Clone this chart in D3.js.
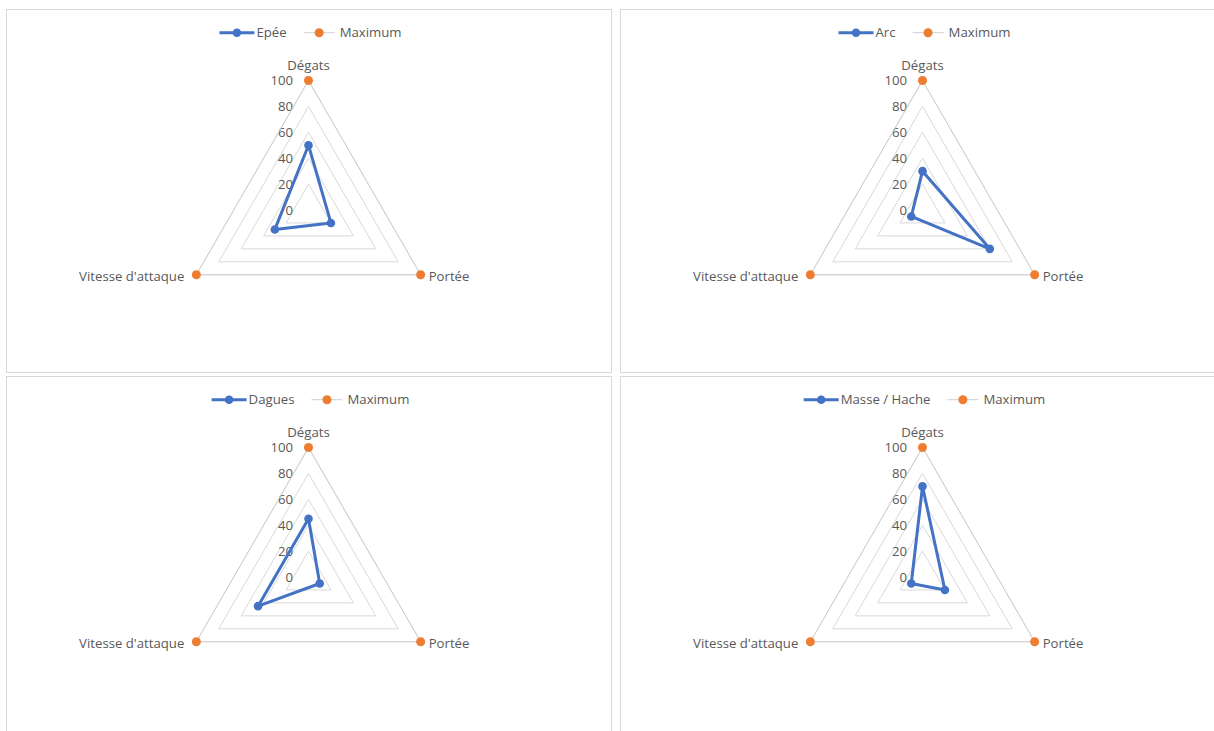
<!DOCTYPE html>
<html>
<head>
<meta charset="utf-8">
<script src="https://cdn.jsdelivr.net/npm/d3@7"></script>
<style>
  html, body { margin: 0; padding: 0; background: #ffffff; overflow: hidden; }
  svg { display: block; }
  text { font-family: "Open Sans", "Liberation Sans", sans-serif; font-size: 13.2px; fill: #595959; }
</style>
</head>
<body>
<svg id="chart" width="1214" height="731"></svg>
<script>
// Weapon stats on three axes, each shown against the maximum (100).
const categories = ["Dégats", "Portée", "Vitesse d'attaque"];
const weaponNames = ["Epée", "Arc", "Dagues", "Masse / Hache"];
const epee = [50, 20, 30];
const arc = [30, 60, 10];
const dagues = [45, 10, 45];
const masseHache = [70, 20, 10];
const maximum = [100, 100, 100];
const tickValues = [0, 20, 40, 60, 80, 100];
const maximumLabel = "Maximum";

const weaponValues = [epee, arc, dagues, masseHache];

const svg = d3.select("#chart");
const BLUE = "#4472C4", ORANGE = "#ED7D31", GRID = "#d9d9d9";

// Panel frames (2 x 2)
const panelW = 605, panelH = 363;
const panelOrigins = [[6.5, 9.5], [620.5, 9.5], [6.5, 376.5], [620.5, 376.5]];

const r = d3.scaleLinear().domain([0, 100]).range([0, 129.5]);
const angle = d3.scalePoint().domain(categories).range([0, 2 * Math.PI * 2 / 3]);

const radial = d3.lineRadial()
  .angle((d, i) => angle(categories[i]))
  .radius(d => r(d))
  .curve(d3.curveLinearClosed);

function pos(v, i) {
  const a = angle(categories[i]);
  return [Math.sin(a) * r(v), -Math.cos(a) * r(v)];
}

weaponNames.forEach((name, k) => {
  const [px, py] = panelOrigins[k];
  const g = svg.append("g").attr("transform", `translate(${px},${py})`);

  g.append("rect")
    .attr("width", panelW).attr("height", panelH)
    .attr("fill", "#fff").attr("stroke", GRID).attr("stroke-width", 1);

  const cx = 302, cy = 200.5;
  const plot = g.append("g").attr("transform", `translate(${cx},${cy})`);

  // Rings
  tickValues.filter(t => t > 0).forEach(t => {
    plot.append("path")
      .attr("d", radial(categories.map(() => t)))
      .attr("fill", "none").attr("stroke", GRID).attr("stroke-width", 1);
  });

  // Value axis labels
  tickValues.forEach(t => {
    plot.append("text")
      .attr("x", -15.5).attr("y", -r(t))
      .attr("dy", "0.35em")
      .attr("text-anchor", "end")
      .text(t);
  });

  // Category labels
  categories.forEach((c, i) => {
    const [x, y] = pos(100, i);
    const t = plot.append("text").text(c).attr("dy", "0.35em");
    if (i === 0) t.attr("x", x).attr("y", y - 15.5).attr("text-anchor", "middle");
    else if (i === 1) t.attr("x", x + 8).attr("y", y + 1.5).attr("text-anchor", "start");
    else t.attr("x", x - 12).attr("y", y + 1.5).attr("text-anchor", "end");
  });

  // Maximum series
  plot.append("path")
    .attr("d", radial(maximum))
    .attr("fill", "none").attr("stroke", "#d0d0d0").attr("stroke-width", 1);
  maximum.forEach((v, i) => {
    const [x, y] = pos(v, i);
    plot.append("circle").attr("cx", x).attr("cy", y).attr("r", 4.5).attr("fill", ORANGE);
  });

  // Weapon series
  const vals = weaponValues[k];
  plot.append("path")
    .attr("d", radial(vals))
    .attr("fill", "none").attr("stroke", BLUE).attr("stroke-width", 3)
    .attr("stroke-linejoin", "round");
  vals.forEach((v, i) => {
    const [x, y] = pos(v, i);
    plot.append("circle").attr("cx", x).attr("cy", y).attr("r", 4.3).attr("fill", BLUE);
  });

  // Legend
  const leg = g.append("g");
  const ly = 23.2;
  const e1 = leg.append("g");
  e1.append("line").attr("x1", 0).attr("x2", 35).attr("y1", 0).attr("y2", 0)
    .attr("stroke", BLUE).attr("stroke-width", 3);
  e1.append("circle").attr("cx", 17.5).attr("cy", 0).attr("r", 4.3).attr("fill", BLUE);
  const t1 = e1.append("text").attr("x", 37).attr("dy", "0.35em").text(name);
  const w1 = 37 + t1.node().getComputedTextLength();

  const e2 = leg.append("g").attr("transform", `translate(${w1 + 17},0)`);
  e2.append("line").attr("x1", 0).attr("x2", 31).attr("y1", 0).attr("y2", 0)
    .attr("stroke", "#d0d0d0").attr("stroke-width", 1);
  e2.append("circle").attr("cx", 15.5).attr("cy", 0).attr("r", 4.5).attr("fill", ORANGE);
  const t2 = e2.append("text").attr("x", 36).attr("dy", "0.35em").text(maximumLabel);
  const total = w1 + 17 + 36 + t2.node().getComputedTextLength();

  leg.attr("transform", `translate(${cx - total / 2 + 2},${ly})`);
});
</script>
</body>
</html>
